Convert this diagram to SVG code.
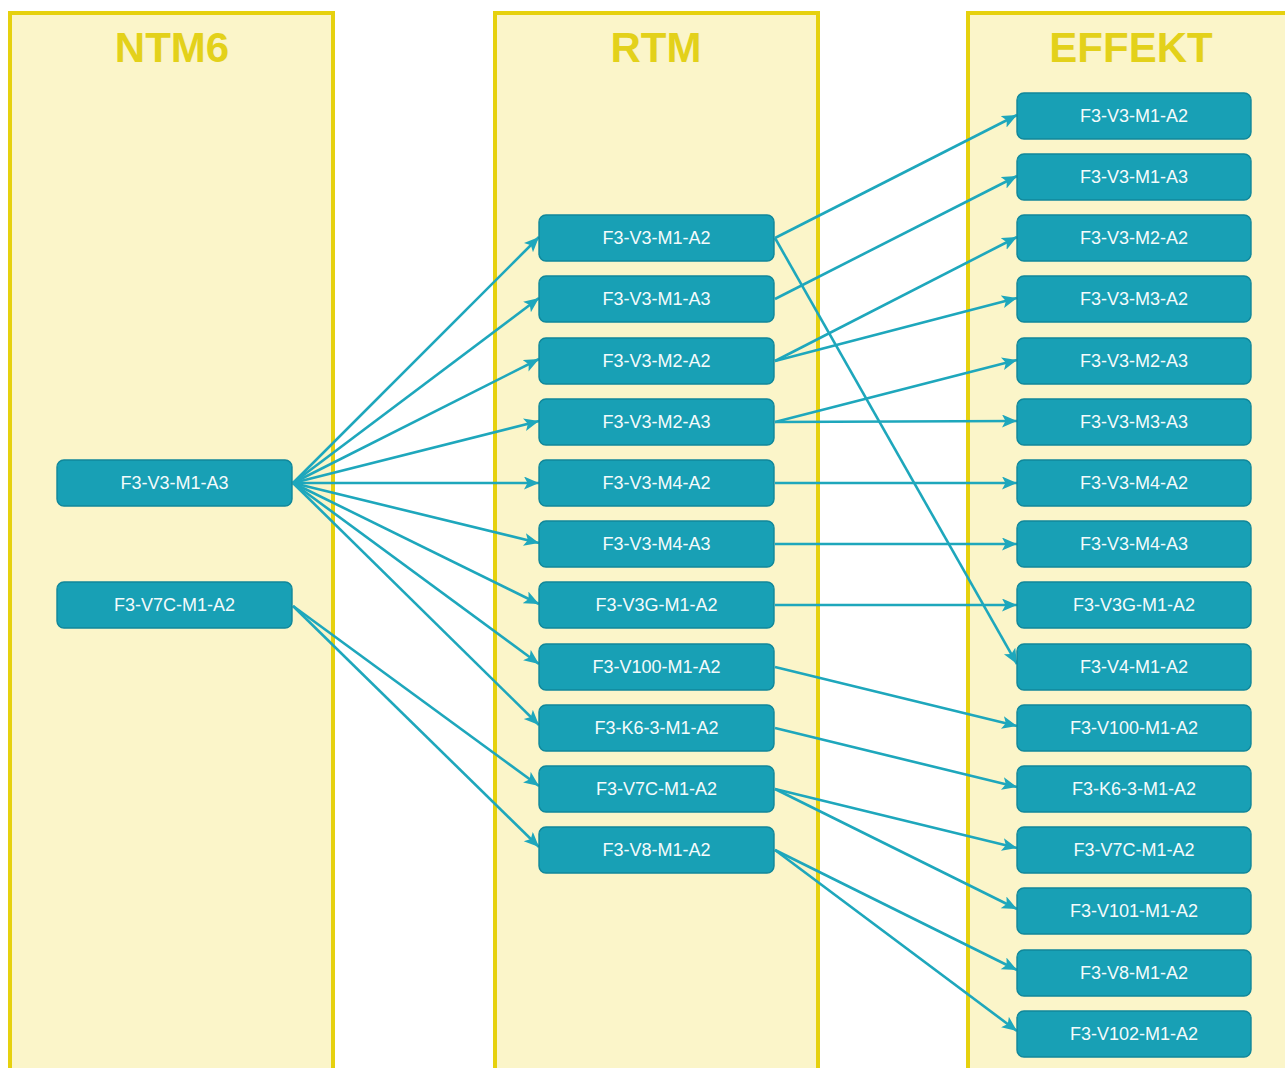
<svg xmlns="http://www.w3.org/2000/svg" width="1285" height="1068" viewBox="0 0 1285 1068">
<style>
.lane{fill:#fbf5c9;stroke:#e6d10e;stroke-width:4}
.title{font-family:"Liberation Sans",Arial,sans-serif;font-weight:bold;font-size:42px;fill:#e3d11a;text-anchor:middle}
.node rect{fill:#18a0b5;stroke:#10879a;stroke-width:1.4}
.node text{font-family:"Liberation Sans",Arial,sans-serif;font-size:18px;fill:#f4fbfc;text-anchor:middle;dominant-baseline:central}
.edge{stroke:#1ea7bc;stroke-width:2.6;fill:none;marker-end:url(#ah)}
</style>
<defs>
<marker id="ah" markerUnits="userSpaceOnUse" markerWidth="16" markerHeight="14" refX="15" refY="6.5" orient="auto">
<path d="M0,0 L15,6.5 L0,13 L3.5,6.5 z" fill="#1ea7bc"/>
</marker>
</defs>
<rect width="1285" height="1068" fill="#ffffff"/>
<g id="lanes">
<rect class="lane" x="10" y="13" width="323" height="1070"/>
<rect class="lane" x="495" y="13" width="323" height="1070"/>
<rect class="lane" x="968" y="13" width="330" height="1070"/>
<text class="title" x="172" y="62">NTM6</text>
<text class="title" x="656" y="62">RTM</text>
<text class="title" x="1131" y="62">EFFEKT</text>
</g>
<g id="connectors">
<line class="edge" x1="293" y1="483" x2="539" y2="237"/>
<line class="edge" x1="293" y1="483" x2="539" y2="298"/>
<line class="edge" x1="293" y1="483" x2="539" y2="359"/>
<line class="edge" x1="293" y1="483" x2="539" y2="421"/>
<line class="edge" x1="293" y1="483" x2="539" y2="483"/>
<line class="edge" x1="293" y1="483" x2="539" y2="543"/>
<line class="edge" x1="293" y1="483" x2="539" y2="604"/>
<line class="edge" x1="293" y1="483" x2="539" y2="664"/>
<line class="edge" x1="293" y1="483" x2="539" y2="725"/>
<line class="edge" x1="293" y1="606" x2="539" y2="786"/>
<line class="edge" x1="293" y1="606" x2="539" y2="847"/>
<line class="edge" x1="775" y1="238" x2="1017" y2="115"/>
<line class="edge" x1="775" y1="238" x2="1017" y2="664"/>
<line class="edge" x1="775" y1="299" x2="1017" y2="176"/>
<line class="edge" x1="775" y1="361" x2="1017" y2="237"/>
<line class="edge" x1="775" y1="361" x2="1017" y2="298"/>
<line class="edge" x1="775" y1="422" x2="1017" y2="360"/>
<line class="edge" x1="775" y1="422" x2="1017" y2="421"/>
<line class="edge" x1="775" y1="483" x2="1017" y2="483"/>
<line class="edge" x1="775" y1="544" x2="1017" y2="544"/>
<line class="edge" x1="775" y1="605" x2="1017" y2="605"/>
<line class="edge" x1="775" y1="667" x2="1017" y2="726"/>
<line class="edge" x1="775" y1="728" x2="1017" y2="787"/>
<line class="edge" x1="775" y1="789" x2="1017" y2="848"/>
<line class="edge" x1="775" y1="789" x2="1017" y2="909"/>
<line class="edge" x1="775" y1="850" x2="1017" y2="970"/>
<line class="edge" x1="775" y1="850" x2="1017" y2="1031"/>
</g>
<g id="n-ntm6-1" class="node"><rect x="57" y="460" width="235" height="46" rx="7"/><text x="174.5" y="483">F3-V3-M1-A3</text></g>
<g id="n-ntm6-2" class="node"><rect x="57" y="582" width="235" height="46" rx="7"/><text x="174.5" y="605">F3-V7C-M1-A2</text></g>
<g id="n-rtm-1" class="node"><rect x="539" y="215" width="235" height="46" rx="7"/><text x="656.5" y="238">F3-V3-M1-A2</text></g>
<g id="n-rtm-2" class="node"><rect x="539" y="276" width="235" height="46" rx="7"/><text x="656.5" y="299">F3-V3-M1-A3</text></g>
<g id="n-rtm-3" class="node"><rect x="539" y="338" width="235" height="46" rx="7"/><text x="656.5" y="361">F3-V3-M2-A2</text></g>
<g id="n-rtm-4" class="node"><rect x="539" y="399" width="235" height="46" rx="7"/><text x="656.5" y="422">F3-V3-M2-A3</text></g>
<g id="n-rtm-5" class="node"><rect x="539" y="460" width="235" height="46" rx="7"/><text x="656.5" y="483">F3-V3-M4-A2</text></g>
<g id="n-rtm-6" class="node"><rect x="539" y="521" width="235" height="46" rx="7"/><text x="656.5" y="544">F3-V3-M4-A3</text></g>
<g id="n-rtm-7" class="node"><rect x="539" y="582" width="235" height="46" rx="7"/><text x="656.5" y="605">F3-V3G-M1-A2</text></g>
<g id="n-rtm-8" class="node"><rect x="539" y="644" width="235" height="46" rx="7"/><text x="656.5" y="667">F3-V100-M1-A2</text></g>
<g id="n-rtm-9" class="node"><rect x="539" y="705" width="235" height="46" rx="7"/><text x="656.5" y="728">F3-K6-3-M1-A2</text></g>
<g id="n-rtm-10" class="node"><rect x="539" y="766" width="235" height="46" rx="7"/><text x="656.5" y="789">F3-V7C-M1-A2</text></g>
<g id="n-rtm-11" class="node"><rect x="539" y="827" width="235" height="46" rx="7"/><text x="656.5" y="850">F3-V8-M1-A2</text></g>
<g id="n-eff-1" class="node"><rect x="1017" y="93" width="234" height="46" rx="7"/><text x="1134" y="116">F3-V3-M1-A2</text></g>
<g id="n-eff-2" class="node"><rect x="1017" y="154" width="234" height="46" rx="7"/><text x="1134" y="177">F3-V3-M1-A3</text></g>
<g id="n-eff-3" class="node"><rect x="1017" y="215" width="234" height="46" rx="7"/><text x="1134" y="238">F3-V3-M2-A2</text></g>
<g id="n-eff-4" class="node"><rect x="1017" y="276" width="234" height="46" rx="7"/><text x="1134" y="299">F3-V3-M3-A2</text></g>
<g id="n-eff-5" class="node"><rect x="1017" y="338" width="234" height="46" rx="7"/><text x="1134" y="361">F3-V3-M2-A3</text></g>
<g id="n-eff-6" class="node"><rect x="1017" y="399" width="234" height="46" rx="7"/><text x="1134" y="422">F3-V3-M3-A3</text></g>
<g id="n-eff-7" class="node"><rect x="1017" y="460" width="234" height="46" rx="7"/><text x="1134" y="483">F3-V3-M4-A2</text></g>
<g id="n-eff-8" class="node"><rect x="1017" y="521" width="234" height="46" rx="7"/><text x="1134" y="544">F3-V3-M4-A3</text></g>
<g id="n-eff-9" class="node"><rect x="1017" y="582" width="234" height="46" rx="7"/><text x="1134" y="605">F3-V3G-M1-A2</text></g>
<g id="n-eff-10" class="node"><rect x="1017" y="644" width="234" height="46" rx="7"/><text x="1134" y="667">F3-V4-M1-A2</text></g>
<g id="n-eff-11" class="node"><rect x="1017" y="705" width="234" height="46" rx="7"/><text x="1134" y="728">F3-V100-M1-A2</text></g>
<g id="n-eff-12" class="node"><rect x="1017" y="766" width="234" height="46" rx="7"/><text x="1134" y="789">F3-K6-3-M1-A2</text></g>
<g id="n-eff-13" class="node"><rect x="1017" y="827" width="234" height="46" rx="7"/><text x="1134" y="850">F3-V7C-M1-A2</text></g>
<g id="n-eff-14" class="node"><rect x="1017" y="888" width="234" height="46" rx="7"/><text x="1134" y="911">F3-V101-M1-A2</text></g>
<g id="n-eff-15" class="node"><rect x="1017" y="950" width="234" height="46" rx="7"/><text x="1134" y="973">F3-V8-M1-A2</text></g>
<g id="n-eff-16" class="node"><rect x="1017" y="1011" width="234" height="46" rx="7"/><text x="1134" y="1034">F3-V102-M1-A2</text></g>
</svg>
